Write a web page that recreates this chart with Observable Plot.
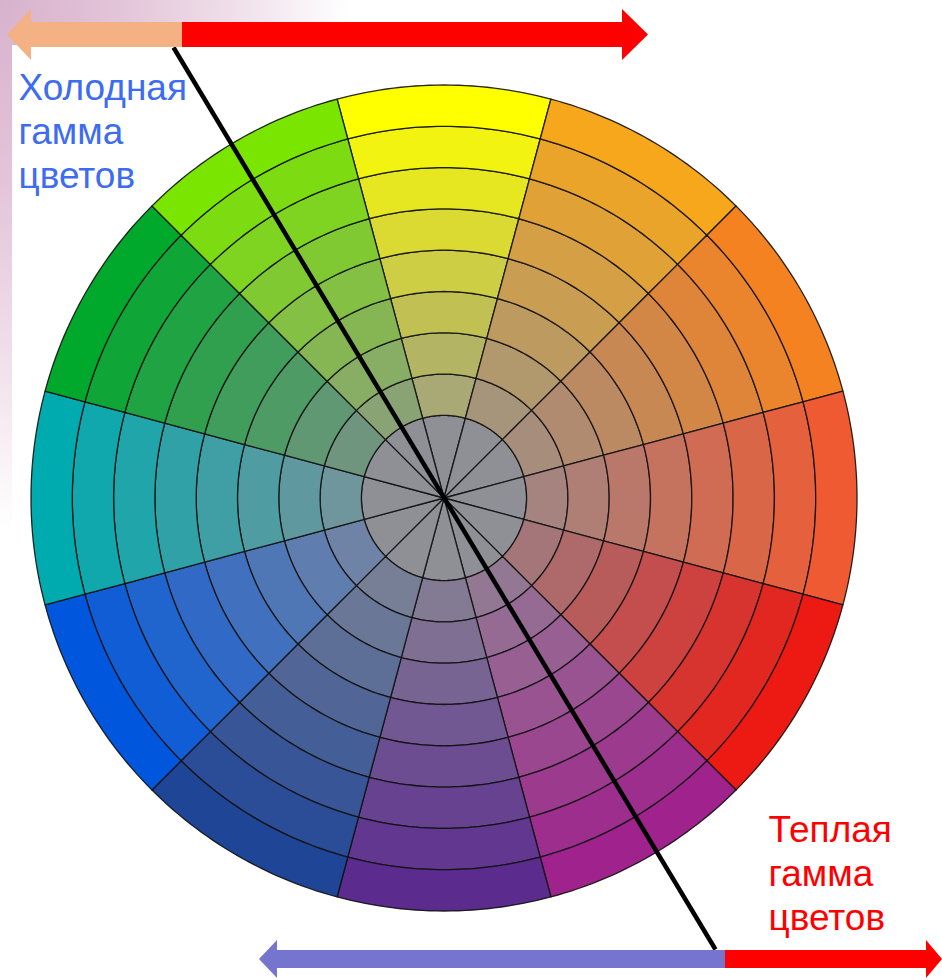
<!DOCTYPE html>
<html>
<head>
<meta charset="utf-8">
<script src="https://cdn.jsdelivr.net/npm/d3@7"></script>
<script src="https://cdn.jsdelivr.net/npm/@observablehq/plot@0.6"></script>
<style>
  html, body { margin: 0; padding: 0; }
  body {
    width: 942px; height: 980px; position: relative; overflow: hidden;
    background: radial-gradient(ellipse 350px 530px at 0 0, #d8b2cd 0%, #e3c5d9 35%, #f1e2ec 70%, #ffffff 100%);
  }
  #paper { position: absolute; left: 12px; top: 45px; right: 0; bottom: 0; background: #ffffff; }
  #chart { position: absolute; left: 0; top: 0; }
</style>
</head>
<body>
<div id="paper"></div>
<div id="chart"></div>
<script>
// ---- data ----
const hueNames  = ["жёлтый", "жёлто-оранжевый", "оранжевый", "красно-оранжевый", "красный", "красно-фиолетовый",
                   "фиолетовый", "сине-фиолетовый", "синий", "сине-зелёный", "зелёный", "жёлто-зелёный"];
const hueAngles = [0, 30, 60, 90, 120, 150, 180, 210, 240, 270, 300, 330];
const hueColors = ["#ffff00", "#f7a71c", "#f58220", "#f05a32", "#ec1a12", "#a0228c",
                   "#5b2c8e", "#1f4597", "#0057de", "#00abb0", "#00a82b", "#7ae600"];
const neutralGray = "#8f9096";
const levels = [0, 1, 2, 3, 4, 5, 6, 7, 8];        // 0 = neutral centre, 8 = pure hue (outer ring)
const dividerAngle = 149;                           // cold / warm split line (deg, clockwise from top)
const coldLabel = "Холодная\nгамма\nцветов";
const warmLabel = "Теплая\nгамма\nцветов";

// ---- layout (pixels of the 942x980 page) ----
const W = 942, H = 980, CX = 444, CY = 498, U = 41.3;  // U = pixels per ring unit
const ux = px => (px - CX) / U;
const uy = py => (CY - py) / U;
const rad = d => d * Math.PI / 180;

// wheel cells: ring radius in units (centre disk 0..2, rings of width 1 up to 10)
const cells = [];
hueAngles.forEach((a, i) => {
  levels.forEach(k => {
    const r0 = k === 0 ? 0 : k + 1, r1 = k === 0 ? 2 : k + 2;
    const color = k === 0 ? neutralGray : d3.interpolateRgb(hueColors[i], neutralGray)((8 - k) / 9);
    for (let t = a - 15; t <= a + 15 + 1e-9; t += 1) {
      cells.push({
        cell: `${hueNames[i]}-${k}`, color,
        xo: r1 * Math.sin(rad(t)), yo: r1 * Math.cos(rad(t)),
        xi: r0 * Math.sin(rad(t)), yi: r0 * Math.cos(rad(t))
      });
    }
  });
});

// block arrows (outline rows: x, half-height around the axis)
function arrowRows(id, color, cy, pts) {
  return pts.map(([x, h]) => ({id, color, x: ux(x), y1: uy(cy - h), y2: uy(cy + h)}));
}
const arrows = [
  ...arrowRows("top-cold", "#f4b183", 34.5, [[7, 0], [31, 25.5], [31, 12.5], [182, 12.5]]),
  ...arrowRows("top-warm", "#ff0000", 34.5, [[182, 12.5], [622, 12.5], [622, 25.5], [648, 0]]),
  ...arrowRows("bot-cold", "#7575cf", 959, [[259, 0], [277, 19], [277, 9], [725, 9]]),
  ...arrowRows("bot-warm", "#ff0000", 959, [[725, 9], [926, 9], [926, 19], [942, 0]])
];

// divider line through the centre
const yTop = uy(47), yBot = uy(949);
const divider = [{
  x1: yTop * Math.tan(rad(dividerAngle + 180)), y1: yTop,
  x2: yBot * Math.tan(rad(dividerAngle)), y2: yBot
}];

const labels = [
  {text: coldLabel, x: ux(18), y: uy(68.5), color: "#3e6cf0"},
  {text: warmLabel, x: ux(768), y: uy(810.5), color: "#ff0000"}
];

const plot = Plot.plot({
  width: W, height: H,
  margin: 0,
  style: {background: "transparent", overflow: "visible"},
  x: {domain: [ux(0), ux(W)], axis: null},
  y: {domain: [uy(H), uy(0)], axis: null},
  color: {type: "identity"},
  marks: [
    Plot.area(cells, {x1: "xo", y1: "yo", x2: "xi", y2: "yi", z: "cell", fill: "color",
      stroke: "#111111", strokeWidth: 1.3, strokeOpacity: 0.9, curve: "linear"}),
    Plot.link(divider, {x1: "x1", y1: "y1", x2: "x2", y2: "y2", stroke: "#000", strokeWidth: 4.5}),
    Plot.area(arrows, {x1: "x", y1: "y1", x2: "x", y2: "y2", z: "id", fill: "color", curve: "linear"}),
    Plot.text(labels, {x: "x", y: "y", text: "text", fill: "color", textAnchor: "start", lineAnchor: "top",
      fontSize: 37, lineHeight: 1.19, fontFamily: "Liberation Sans, Arial, sans-serif"})
  ]
});
document.getElementById("chart").appendChild(plot);
</script>
</body>
</html>
